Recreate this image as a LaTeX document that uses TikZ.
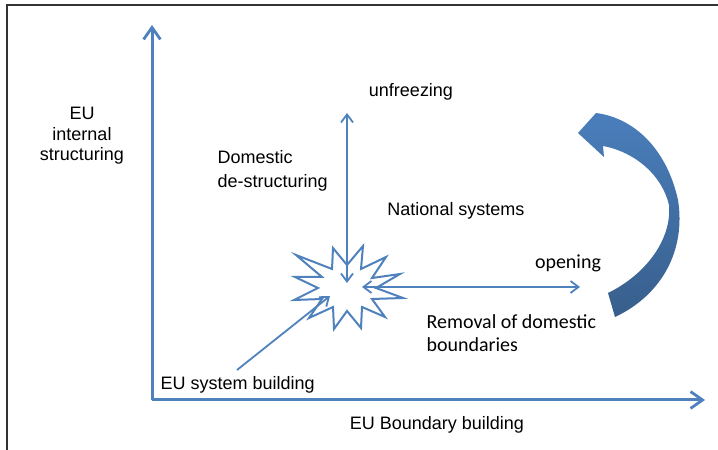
\documentclass[tikz,border=0pt]{standalone}
\usepackage{fontspec}
\setmainfont{Liberation Sans}
\newfontfamily\calibri{Carlito}
\usetikzlibrary{arrows.meta}

\definecolor{axisblue}{HTML}{4F81BD}
\definecolor{bendblue}{HTML}{4A7EBB}

\tikzset{
  axisline/.style={axisblue,line width=0.75mm,-{Straight Barb[length=3mm,width=4.2mm,line width=0.7mm]}},
  moveline/.style={axisblue,line width=0.45mm,-{Straight Barb[length=2mm,width=3mm,line width=0.45mm]}},
  twoway/.style={axisblue,line width=0.45mm,{Straight Barb[length=2mm,width=3mm,line width=0.45mm]}-{Straight Barb[length=2mm,width=3mm,line width=0.45mm]}},
  arial/.style={font=\fontsize{12.8}{14.5}\selectfont,inner sep=1pt},
  cali/.style={font=\calibri\fontsize{14.2}{16.3}\selectfont,inner sep=1pt}
}

\begin{document}
\begin{tikzpicture}[x=0.25mm,y=0.25mm]
  \useasboundingbox (0,0) rectangle (718,450);
  % Frame, only its left and top edges fall inside the page.
  \draw[black!80,line width=0.4mm] (7,0) -- (7,445) -- (718,445);

  % Axes.
  \coordinate (origin) at (152,50);
  \coordinate (ytop) at (152,425);
  \coordinate (xend) at (705,50);
  \draw[axisline] (origin) -- (ytop);
  \draw[axisline] (origin) -- (xend);
  \node[arial,align=center] (ylab) at (82,314) {EU\\internal\\structuring};
  \node[arial,anchor=west] (sysbuild) at (159,65) {EU system building};
  \node[arial] (xlab) at (437,25) {EU Boundary building};

  % The burst where the moves meet.
  \draw[axisblue,line width=0.5mm,fill=white,line join=miter]
    (400,176) -- (372,172) -- (386,193) -- (361,181) -- (363,204)
    -- (347,185) -- (333,202) -- (332,181) -- (296,195) -- (322,173)
    -- (295,173) -- (318,162) -- (294,150) -- (322,151) -- (309,132)
    -- (333,143) -- (334,121) -- (347,139) -- (361,122) -- (362,143)
    -- (385,133) -- (372,151) -- (403,152) -- (376,162) -- cycle;
  \coordinate (burstN) at (347,167);
  \coordinate (burstE) at (362,163);
  \coordinate (burstSW) at (330,154);

  % Vertical and horizontal moves.
  \coordinate (unfreeze) at (347,337);
  \coordinate (open) at (580,163);
  \coordinate (diagfoot) at (237,80);
  \draw[twoway] (burstN) -- (unfreeze);
  \draw[twoway] (burstE) -- (open);
  \draw[moveline] (diagfoot) -- (burstSW);

  \node[arial] (unfrlab) at (411,358) {unfreezing};
  \node[arial,align=left,anchor=west,font=\fontsize{12.8}{17}\selectfont] (destr) at (216,279) {Domestic\\de-structuring};
  \node[arial] (natsys) at (456,239) {National systems};
  \node[cali] (openlab) at (568,187) {opening};
  \node[cali,align=left,anchor=west] (removal) at (425,117) {Removal of domestic\\boundaries};

  % Curved block arrow on the right.
  \shade[top color=bendblue,bottom color=bendblue!75!black]
    (578,317) -- (596,337)
    .. controls (635,332) and (667,300) .. (678,250)
    .. controls (686,200) and (662,155) .. (615,133)
    -- (608,157)
    .. controls (645,175) and (672,210) .. (669,245)
    .. controls (662,275) and (635,298) .. (603,304)
    -- (604,293) -- cycle;
\end{tikzpicture}
\end{document}
